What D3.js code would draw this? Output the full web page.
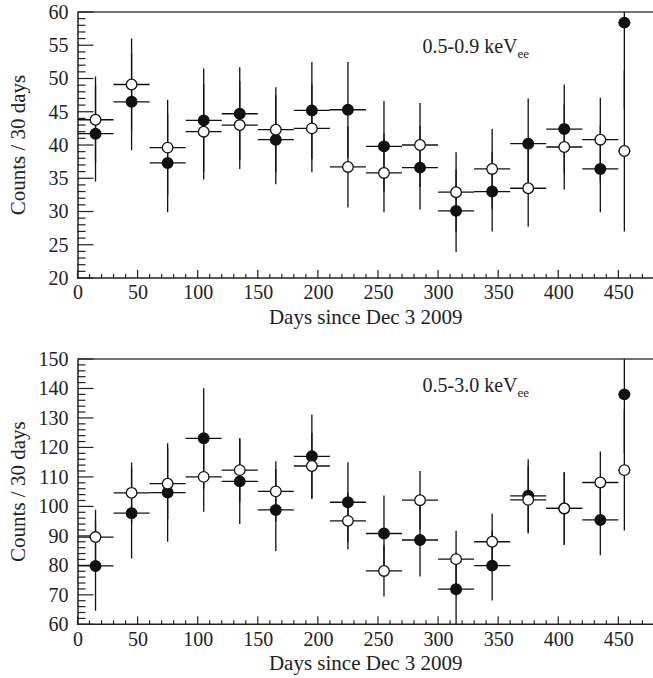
<!DOCTYPE html>
<html>
<head>
<meta charset="utf-8">
<script src="https://cdn.jsdelivr.net/npm/d3@7"></script>
<style>
  body { margin: 0; background: #fff; }
  svg text { font-family: "Liberation Serif", "DejaVu Serif", serif; fill: #222; }
</style>
</head>
<body>
<svg id="chart" width="653" height="678"></svg>
<script>
// bin centres (days since Dec 3 2009) and half widths
var days = [15, 45, 75, 105, 135, 165, 195, 225, 255, 285, 315, 345, 375, 405, 435, 455];
var halfWidth = [15, 15, 15, 15, 15, 15, 15, 15, 15, 15, 15, 15, 15, 15, 15, 5];

// 0.5-0.9 keVee
var filledLow = [41.7, 46.5, 37.3, 43.7, 44.7, 40.8, 45.2, 45.3, 39.8, 36.6, 30.1, 33.0, 40.2, 42.4, 36.4, 58.4];
var filledLowErr = [7.2, 7.3, 7.4, 7.8, 7.0, 6.7, 7.3, 7.2, 6.8, 6.3, 6.2, 6.0, 6.8, 6.7, 6.5, 13.0];
var openLow = [43.8, 49.1, 39.6, 42.0, 43.0, 42.3, 42.5, 36.7, 35.8, 40.0, 32.9, 36.4, 33.5, 39.7, 40.8, 39.1];
var openLowErr = [6.5, 6.9, 7.2, 7.2, 6.6, 6.4, 6.6, 6.1, 5.9, 6.3, 6.0, 6.0, 5.8, 6.4, 6.3, 12.1];

// 0.5-3.0 keVee
var filledAll = [79.8, 97.7, 104.7, 123.1, 108.5, 98.8, 117.0, 101.4, 90.8, 88.6, 71.9, 79.9, 103.6, 99.3, 95.4, 138.0];
var filledAllErr = [15.2, 15.4, 16.7, 17.0, 14.5, 13.9, 14.2, 13.6, 12.9, 12.4, 12.5, 11.8, 12.4, 12.3, 12.0, 20.0];
var openAll = [89.6, 104.6, 107.7, 110.0, 112.3, 105.1, 113.7, 95.1, 78.1, 102.1, 82.1, 88.0, 102.2, 99.3, 108.1, 112.3];
var openAllErr = [9.3, 10.3, 12.0, 11.8, 10.8, 10.2, 11.2, 9.6, 8.7, 9.9, 9.6, 9.5, 11.4, 12.3, 10.5, 20.5];

var svg = d3.select('#chart');
var left = 77.5, right = 654.4;

var x = d3.scaleLinear().domain([0, 480]).range([left, right]);

var panels = [
    {id: 'low', top: 12, bottom: 278, ymin: 20, ymax: 60, major: 5, minor: 1,
     filled: filledLow, filledErr: filledLowErr, open: openLow, openErr: openLowErr,
     label: '0.5-0.9 keV', labelDy: 41},
    {id: 'all', top: 359, bottom: 624.3, ymin: 60, ymax: 150, major: 10, minor: 2,
     filled: filledAll, filledErr: filledAllErr, open: openAll, openErr: openAllErr,
     label: '0.5-3.0 keV', labelDy: 33}
];

panels.forEach(function(p) {
    var y = d3.scaleLinear().domain([p.ymin, p.ymax]).range([p.bottom, p.top]);
    var g = svg.append('g').attr('class', p.id);

    g.append('clipPath').attr('id', 'clip-' + p.id)
        .append('rect')
        .attr('x', left).attr('y', p.top)
        .attr('width', right - left).attr('height', p.bottom - p.top);

    // top frame line
    g.append('line').attr('x1', left).attr('x2', 653).attr('y1', p.top).attr('y2', p.top)
        .attr('stroke', '#444').attr('stroke-width', 1.3);

    // x axis: labels every 50, ticks every 10 pointing in
    var xAxis = d3.axisBottom(x).tickValues(d3.range(0, 451, 50)).tickSize(0).tickPadding(7);
    var gx = g.append('g').attr('transform', 'translate(0,' + p.bottom + ')').call(xAxis);
    gx.select('.domain').attr('stroke', '#222').attr('stroke-width', 1.5).attr('d', 'M' + left + ',0H653');
    gx.selectAll('text').attr('font-size', 20).attr('dy', '0.72em');
    gx.selectAll('.minor').data(d3.range(0, 481, 10)).enter().append('line')
        .attr('x1', function(d) { return x(d); }).attr('x2', function(d) { return x(d); })
        .attr('y1', 0).attr('y2', function(d) { return d % 50 === 0 ? -8 : -4; })
        .attr('stroke', '#222').attr('stroke-width', 1.2);

    // y axis
    var yAxis = d3.axisLeft(y).tickValues(d3.range(p.ymin, p.ymax + 0.1, p.major)).tickSize(0).tickPadding(9);
    var gy = g.append('g').attr('transform', 'translate(' + left + ',0)').call(yAxis);
    gy.select('.domain').attr('stroke', '#222').attr('stroke-width', 1.5);
    gy.selectAll('text').attr('font-size', 20);
    gy.selectAll('.minor').data(d3.range(p.ymin, p.ymax + 0.1, p.minor)).enter().append('line')
        .attr('y1', function(d) { return y(d); }).attr('y2', function(d) { return y(d); })
        .attr('x1', 0).attr('x2', function(d) { return (d - p.ymin) % p.major === 0 ? 16 : 8; })
        .attr('stroke', '#222').attr('stroke-width', 1.2);

    // axis titles
    g.append('text').attr('x', (left + 654) / 2).attr('y', p.bottom + 46)
        .attr('text-anchor', 'middle').attr('font-size', 21).text('Days since Dec 3 2009');
    g.append('text')
        .attr('transform', 'translate(25,' + (p.top + p.bottom) / 2 + ') rotate(-90)')
        .attr('text-anchor', 'middle').attr('font-size', 21).text('Counts / 30 days');

    // panel label
    var lab = g.append('text').attr('x', 422.5).attr('y', p.top + p.labelDy).attr('font-size', 20).text(p.label);
    lab.append('tspan').attr('font-size', 13).attr('dy', 5).text('ee');

    var plot = g.append('g').attr('clip-path', 'url(#clip-' + p.id + ')');

    function drawSeries(vals, errs, fill) {
        var pts = days.map(function(d, i) { return {d: d, w: halfWidth[i], v: vals[i], e: errs[i]}; });
        var s = plot.append('g');
        s.selectAll('.ey').data(pts).enter().append('line')
            .attr('x1', function(d) { return x(d.d); }).attr('x2', function(d) { return x(d.d); })
            .attr('y1', function(d) { return y(d.v - d.e); }).attr('y2', function(d) { return y(d.v + d.e); })
            .attr('stroke', '#111').attr('stroke-width', 1.3);
        s.selectAll('.ex').data(pts).enter().append('line')
            .attr('x1', function(d) { return x(d.d - d.w); }).attr('x2', function(d) { return x(d.d + d.w); })
            .attr('y1', function(d) { return y(d.v); }).attr('y2', function(d) { return y(d.v); })
            .attr('stroke', '#111').attr('stroke-width', 1.3);
        s.selectAll('circle').data(pts).enter().append('circle')
            .attr('cx', function(d) { return x(d.d); })
            .attr('cy', function(d) { return y(d.v); })
            .attr('r', 5.3)
            .attr('fill', fill)
            .attr('stroke', '#111').attr('stroke-width', 1.3);
    }
    drawSeries(p.filled, p.filledErr, '#111');
    drawSeries(p.open, p.openErr, '#fff');
});
</script>
</body>
</html>
